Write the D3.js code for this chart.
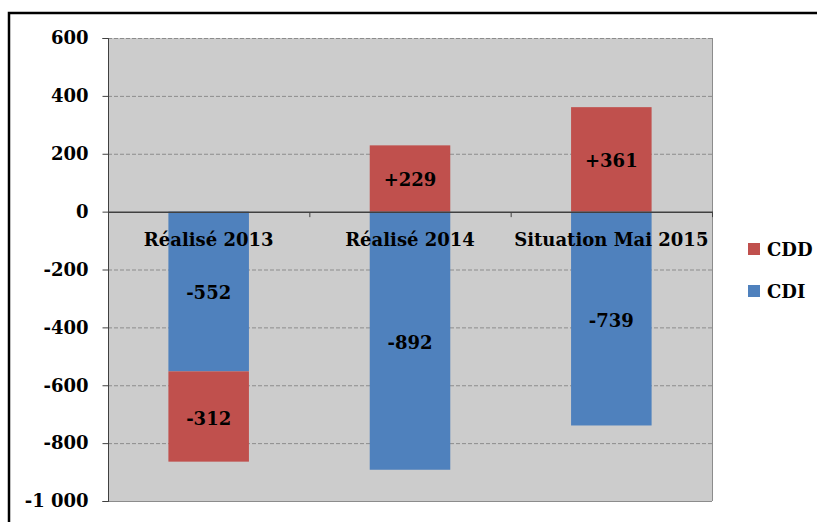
<!DOCTYPE html>
<html lang="fr">
<head>
<meta charset="UTF-8"/>
<title>CDD / CDI</title>
<script src="https://cdnjs.cloudflare.com/ajax/libs/d3/7.8.5/d3.min.js"></script>
<style>
    body { margin: 0; background: #fff; }
    text { font-family: "DejaVu Serif", serif; font-weight: bold; font-size: 18px; fill: #000; }
</style>
</head>
<body>
<div id="chart"></div>
<script>
    // Data
    const categories = ["Réalisé 2013", "Réalisé 2014", "Situation Mai 2015"];
    const cdi = [-552, -892, -739];
    const cdd = [-312, 229, 361];
    const cddLabels = ["-312", "+229", "+361"];
    const cdiLabels = ["-552", "-892", "-739"];
    const yTicks = [600, 400, 200, 0, -200, -400, -600, -800, -1000];

    const width = 817;
    const height = 522;
    const plot = {left: 108, right: 712, top: 38, bottom: 501};

    const svg = d3.select("#chart").append("svg")
        .attr("width", width)
        .attr("height", height);

    // outer frame
    svg.append("rect")
        .attr("x", 9).attr("y", 13)
        .attr("width", width).attr("height", height)
        .attr("fill", "none").attr("stroke", "#000").attr("stroke-width", 2.5);

    const x = d3.scaleBand().domain(categories).range([plot.left, plot.right]).paddingInner(0.6).paddingOuter(0.3);
    const band = d3.scaleBand().domain(categories).range([plot.left, plot.right]);
    const y = d3.scaleLinear().domain([-1000, 600]).range([plot.bottom, plot.top]);

    // french style numbers: space thousands, plain hyphen minus
    const fr = d3.formatLocale({decimal: ",", thousands: " ", grouping: [3], currency: ["", " €"], minus: "-"});
    const fmt = fr.format(",");

    // plot background
    svg.append("rect")
        .attr("x", plot.left).attr("y", plot.top)
        .attr("width", plot.right - plot.left).attr("height", plot.bottom - plot.top)
        .attr("fill", "#cccccc");

    // gridlines
    svg.append("g").selectAll("line")
        .data(yTicks.filter(d => d !== 0 && d !== -1000))
        .join("line")
        .attr("x1", plot.left).attr("x2", plot.right)
        .attr("y1", d => y(d) + 0.5).attr("y2", d => y(d) + 0.5)
        .attr("stroke", "#8c8c8c").attr("stroke-dasharray", "4,2");

    // right and bottom border
    svg.append("line")
        .attr("x1", plot.right + 0.5).attr("x2", plot.right + 0.5)
        .attr("y1", plot.top).attr("y2", plot.bottom)
        .attr("stroke", "#8c8c8c");
    svg.append("line")
        .attr("x1", plot.left).attr("x2", plot.right)
        .attr("y1", plot.bottom + 0.5).attr("y2", plot.bottom + 0.5)
        .attr("stroke", "#8c8c8c");

    // stacked segments
    const segments = [];
    categories.forEach((c, i) => {
        let pos = 0, neg = 0;
        [[cdi[i], "CDI", cdiLabels[i]], [cdd[i], "CDD", cddLabels[i]]].forEach(([v, s, lab]) => {
            let y0, y1;
            if (v >= 0) { y0 = pos; y1 = pos + v; pos = y1; }
            else { y0 = neg; y1 = neg + v; neg = y1; }
            segments.push({cat: c, series: s, y0, y1, label: lab});
        });
    });

    const color = {CDD: "#c0504d", CDI: "#4f81bd"};

    svg.append("g").selectAll("rect")
        .data(segments)
        .join("rect")
        .attr("x", d => x(d.cat))
        .attr("width", x.bandwidth())
        .attr("y", d => y(Math.max(d.y0, d.y1)))
        .attr("height", d => Math.abs(y(d.y0) - y(d.y1)))
        .attr("fill", d => color[d.series]);

    // y axis
    const yAxis = svg.append("g")
        .attr("transform", `translate(${plot.left + 0.5},0)`)
        .call(d3.axisLeft(y).tickValues(yTicks).tickSize(6).tickPadding(14).tickFormat(fmt));
    yAxis.select(".domain").attr("stroke", "#404040").attr("d", `M-6,${plot.top + 0.5}H0V${plot.bottom + 0.5}H-6`);
    yAxis.selectAll(".tick line").attr("stroke", "#404040");
    yAxis.selectAll(".tick text").attr("font-family", null).attr("font-size", null);

    // zero line with category ticks
    const zero = y(0) + 0.5;
    svg.append("line")
        .attr("x1", plot.left).attr("x2", plot.right + 1)
        .attr("y1", zero).attr("y2", zero)
        .attr("stroke", "#404040").attr("stroke-width", 1.5);
    svg.append("g").selectAll("line")
        .data(categories)
        .join("line")
        .attr("x1", d => band(d) + band.bandwidth() + 0.5)
        .attr("x2", d => band(d) + band.bandwidth() + 0.5)
        .attr("y1", zero).attr("y2", zero + 5)
        .attr("stroke", "#404040");

    // category labels
    svg.append("g").selectAll("text")
        .data(categories)
        .join("text")
        .attr("x", d => band(d) + band.bandwidth() / 2)
        .attr("y", 246)
        .attr("text-anchor", "middle")
        .text(d => d);

    // value labels
    svg.append("g").selectAll("text")
        .data(segments)
        .join("text")
        .attr("x", d => x(d.cat) + x.bandwidth() / 2)
        .attr("y", d => (y(d.y0) + y(d.y1)) / 2 + 8)
        .attr("text-anchor", "middle")
        .text(d => d.label);

    // legend
    const legend = svg.append("g").selectAll("g")
        .data(["CDD", "CDI"])
        .join("g")
        .attr("transform", (d, i) => `translate(748,${243 + i * 42})`);
    legend.append("rect")
        .attr("width", 12).attr("height", 12)
        .attr("fill", d => color[d]);
    legend.append("text")
        .attr("x", 19).attr("y", 13)
        .text(d => d);
</script>
</body>
</html>
